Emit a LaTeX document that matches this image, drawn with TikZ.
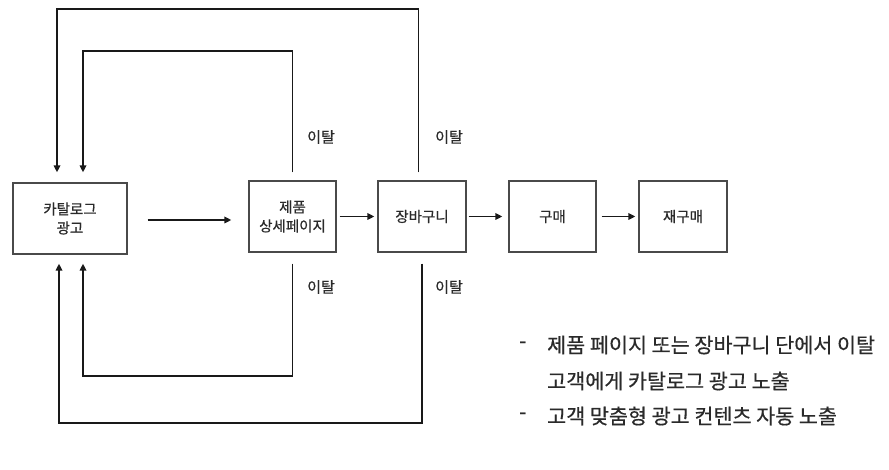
\documentclass[tikz,border=0pt]{standalone}
\usepackage{fontspec}
\setmainfont{Noto Sans CJK KR}
\newfontfamily\medfont{Noto Sans CJK KR}[FakeBold=0.5]
\usetikzlibrary{arrows.meta}
\definecolor{boxline}{HTML}{4A4A4A}
\definecolor{txt}{HTML}{2A2A2A}
\begin{document}
\begin{tikzpicture}[x=1pt,y=-1pt,
  stagebox/.style={draw=boxline, line width=1.3pt, fill=white, align=center,
    inner sep=0pt, text=txt, font=\medfont\fontsize{14.5}{19}\selectfont, minimum height=71pt},
  arr/.style={draw=black!90, line width=1.6pt, -{Triangle[length=7pt,width=6.5pt]}},
  lbl/.style={text=txt, font=\medfont\fontsize{15}{16}\selectfont, inner sep=0pt},
  note/.style={text=txt, font=\medfont\fontsize{20.7}{22}\selectfont, inner sep=0pt, anchor=west}]
\useasboundingbox (0,0) rectangle (889,470);
\node[stagebox, minimum width=114pt] (cat) at (70,218.5) {카탈로그\\광고};
\node[stagebox, minimum width=87pt] (detail) at (292.5,216.5) {제품\\상세페이지};
\node[stagebox, minimum width=88pt] (cart) at (422,216.5) {장바구니};
\node[stagebox, minimum width=87pt] (buy) at (552.5,216.5) {구매};
\node[stagebox, minimum width=88pt] (rebuy) at (683,216.5) {재구매};
% forward arrows
\coordinate (fy) at (0,220);
\draw[arr, shorten <=20pt, shorten >=17pt] (cat.east |- fy) -- (detail.west |- fy);
\draw[arr, shorten <=3pt, shorten >=3pt] (detail) -- (cart);
\draw[arr, shorten <=2pt, shorten >=6pt] (cart) -- (buy);
\draw[arr, shorten <=5pt, shorten >=3pt] (buy) -- (rebuy);
% loops
\coordinate (t1) at (0,51);
\coordinate (t2) at (0,9);
\coordinate (b1) at (0,376);
\coordinate (b2) at (0,423);
\draw[arr, shorten <=8pt, shorten >=10pt] (detail.north) -- (detail.north |- t1) -| ([xshift=13pt]cat.north);
\draw[arr, shorten <=8pt, shorten >=10pt] ([xshift=-3.5pt]cart.north) -- ([xshift=-3.5pt]cart.north |- t2) -| ([xshift=-13pt]cat.north);
\draw[arr, shorten <=11pt, shorten >=9pt] (detail.south) -- (detail.south |- b1) -| ([xshift=13pt]cat.south);
\draw[arr, shorten <=11pt, shorten >=9pt] (cart.south) -- (cart.south |- b2) -| ([xshift=-11pt]cat.south);
% labels
\node[lbl] (l1) at (321,137) {이탈};
\node[lbl] (l2) at (449,137) {이탈};
\node[lbl] (l3) at (321,287) {이탈};
\node[lbl] (l4) at (449,287) {이탈};
% notes
\node[note] (d1) at (519,345) {-};
\node[note] (n1) at (547,345) {제품 페이지 또는 장바구니 단에서 이탈};
\node[note] (n2) at (547,381) {고객에게 카탈로그 광고 노출};
\node[note] (d2) at (519,416) {-};
\node[note] (n3) at (547,416) {고객 맞춤형 광고 컨텐츠 자동 노출};
\end{tikzpicture}
\end{document}
